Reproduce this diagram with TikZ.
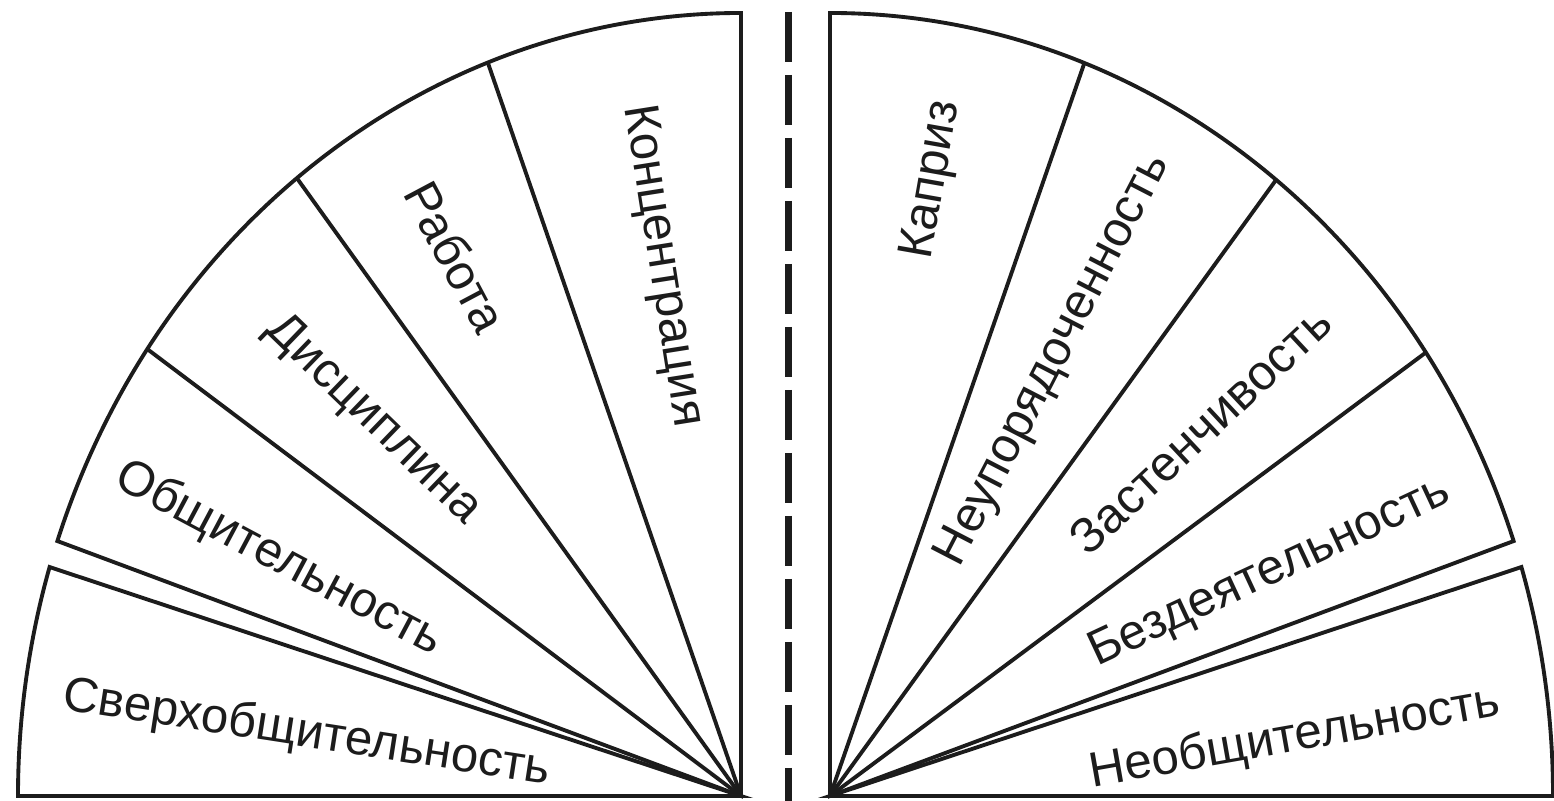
\documentclass[tikz,border=0pt]{standalone}
\usepackage{fontspec}
\setmainfont{Liberation Sans}
\usetikzlibrary{calc}
\definecolor{InkDark}{HTML}{1C1C1C}
\tikzset{
  fanline/.style={draw=InkDark, line width=1.1pt, line join=miter},
  sectortext/.style={font=\fontsize{14}{16}\selectfont, text=InkDark, inner sep=0pt},
  splitline/.style={draw=InkDark, line width=2pt, dash pattern=on 5mm off 1.3mm},
}

\begin{document}
\begin{tikzpicture}
  \useasboundingbox (0,0) rectangle (15.54,8.01);
  \fill[white] (0,0) rectangle (15.54,8.01);

  % fan centres and split line
  \coordinate (lc) at (7.41,0.05);
  \coordinate (rc) at (8.30,0.05);
  \coordinate (splittop) at (7.88,7.89);
  \coordinate (splitbot) at (7.88,0);

  % left fan
  \draw[fanline] (lc) -- ++(180:7.23 and 7.83)
        arc[start angle=180, end angle=163, x radius=7.23, y radius=7.83] -- cycle;
  \draw[fanline] (lc) -- ++(161:7.23 and 7.83)
        arc[start angle=161, end angle=90, x radius=7.23, y radius=7.83] -- cycle;
  \foreach \t in {145.2,127.9,110.5}
    \draw[fanline] (lc) -- ++(\t:7.23 and 7.83);

  % right fan
  \draw[fanline] (rc) -- ++(0:7.23 and 7.83)
        arc[start angle=0, end angle=17, x radius=7.23, y radius=7.83] -- cycle;
  \draw[fanline] (rc) -- ++(19:7.23 and 7.83)
        arc[start angle=19, end angle=90, x radius=7.23, y radius=7.83] -- cycle;
  \foreach \t in {34.5,51.9,69.4}
    \draw[fanline] (rc) -- ++(\t:7.23 and 7.83);

  \draw[splitline] (splittop) -- (splitbot);

  % left labels
  \node[sectortext, rotate=-8.8] (sverkh) at (3.07,0.67) {Сверхобщительность};
  \node[sectortext, rotate=-28]  (obshch) at (2.79,2.42) {Общительность};
  \node[sectortext, rotate=-44]  (discip) at (3.73,3.81) {Дисциплина};
  \node[sectortext, rotate=-62]  (rabota) at (4.56,5.44) {Работа};
  \node[sectortext, rotate=-81]  (koncen) at (6.62,5.35) {Концентрация};

  % right labels
  \node[sectortext, rotate=80]   (kapriz) at (9.33,6.21) {Каприз};
  \node[sectortext, rotate=62.7] (neupor) at (10.54,4.41) {Неупорядоченность};
  \node[sectortext, rotate=43]   (zasten) at (12.00,3.71) {Застенчивость};
  \node[sectortext, rotate=25]   (bezdey) at (12.70,2.28) {Бездеятельность};
  \node[sectortext, rotate=10]   (neobsh) at (12.95,0.63) {Необщительность};
\end{tikzpicture}
\end{document}
